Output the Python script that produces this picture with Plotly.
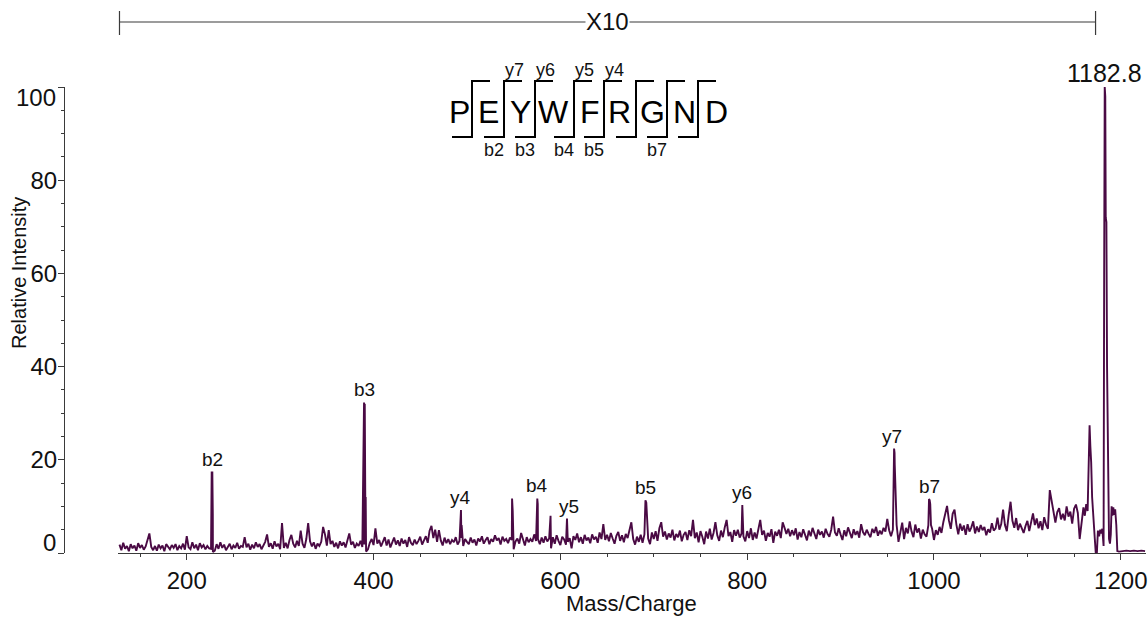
import numpy as np
import plotly.graph_objects as go

# ---------------- data ----------------
# baseline spectrum (m/z 128 .. 1160, every 2 units), x10 region
noise_start = 128
noise_step = 2
noise_intensity = [
    1.8, 0.6, 2.2, 0.9, 1.5, 0.4, 1.9, 1.0, 1.6, 0.5, 2.1, 1.1, 1.7, 0.7, 1.4, 3.0, 4.2, 1.3, 0.6, 1.5,
    0.5, 1.8, 1.0, 1.6, 0.4, 1.9, 1.2, 0.8, 1.7, 1.1, 1.9, 0.6, 1.5, 1.0, 2.0, 0.7, 3.6, 1.2, 0.8, 2.3,
    1.0, 1.8, 0.6, 2.1, 1.2, 1.7, 0.8, 1.5, 1.0, 0.9, 0.2, 0.5, 1.9, 0.9, 2.3, 1.1, 1.8, 0.6, 1.4, 2.0,
    0.8, 1.6, 1.1, 2.2, 0.9, 1.5, 1.3, 3.4, 1.2, 2.0, 0.7, 1.8, 1.0, 2.3, 1.3, 1.9, 0.8, 1.7, 2.4, 4.0,
    1.3, 2.1, 0.9, 2.5, 1.4, 2.0, 0.8, 6.4, 1.1, 2.2, 1.0, 2.8, 3.9, 2.0, 1.2, 2.6, 1.5, 4.8, 2.0, 1.1,
    3.0, 6.4, 2.5, 1.4, 2.3, 0.9, 2.0, 1.5, 2.4, 5.6, 4.0, 1.6, 4.9, 1.9, 2.6, 1.3, 2.2, 1.0, 2.5, 1.6,
    2.3, 1.2, 2.7, 4.2, 1.8, 2.4, 1.1, 2.0, 1.5, 2.6, 1.3, 1.8, 0.3, 0.8, 2.2, 3.0, 1.7, 5.3, 2.0, 2.8,
    1.4, 2.6, 3.4, 1.6, 2.9, 1.2, 2.5, 3.3, 1.8, 2.7, 1.5, 3.1, 2.0, 2.8, 1.3, 3.4, 2.2, 1.7, 2.9, 1.9,
    2.6, 3.5, 1.8, 2.9, 3.6, 2.2, 4.8, 5.8, 3.2, 5.0, 2.4, 4.9, 2.7, 1.6, 3.3, 2.1, 3.0, 1.9, 2.8, 2.3,
    3.4, 1.8, 2.6, 3.2, 1.5, 3.0, 2.4, 1.9, 3.3, 2.2, 2.9, 1.6, 3.1, 2.5, 3.6, 2.0, 2.8, 3.4, 1.9, 3.0,
    2.4, 3.8, 2.7, 3.2, 1.8, 3.5, 2.6, 3.0, 2.1, 3.3, 2.8, 0.8, 2.5, 3.1, 2.0, 4.3, 2.7, 1.6, 3.4, 2.3,
    3.0, 2.4, 4.0, 2.6, 3.0, 1.9, 3.3, 2.2, 3.6, 2.5, 3.1, 1.0, 3.4, 2.0, 3.8, 2.6, 1.7, 3.5, 2.9, 1.8,
    2.4, 3.2, 1.0, 3.6, 2.8, 4.2, 2.3, 3.4, 2.0, 3.9, 2.7, 3.3, 2.1, 4.0, 2.9, 3.5, 2.2, 4.4, 3.0, 6.2,
    2.8, 3.9, 2.5, 4.3, 3.1, 2.0, 3.7, 4.5, 2.6, 3.8, 2.3, 4.1, 3.2, 5.2, 6.6, 3.0, 1.8, 3.5, 2.4, 3.9,
    2.2, 4.0, 10.8, 3.1, 1.9, 4.4, 3.0, 4.7, 2.6, 5.3, 6.6, 3.5, 4.6, 2.9, 4.2, 3.3, 5.0, 2.7, 4.1, 3.4,
    4.8, 2.5, 3.9, 4.5, 2.8, 4.9, 3.6, 7.1, 3.2, 4.4, 2.3, 4.7, 3.5, 1.9, 4.6, 3.1, 5.2, 2.9, 4.3, 6.6,
    3.8, 2.6, 4.8, 3.4, 5.5, 7.1, 3.6, 4.5, 2.4, 4.9, 3.7, 5.0, 3.3, 4.2, 3.6, 2.5, 4.7, 3.2, 5.3, 2.8,
    4.4, 3.1, 5.6, 7.1, 3.9, 4.8, 2.6, 4.3, 3.5, 5.1, 2.2, 4.6, 3.7, 5.0, 3.2, 6.6, 5.4, 4.1, 5.2, 3.6,
    4.9, 3.8, 5.3, 2.9, 4.5, 3.4, 5.1, 4.0, 2.7, 4.8, 3.6, 5.4, 4.2, 3.0, 5.0, 3.9, 4.6, 3.3, 5.2, 4.1,
    3.5, 5.0, 7.8, 4.4, 3.7, 5.3, 4.0, 2.8, 4.9, 3.6, 5.5, 4.3, 3.2, 5.1, 3.9, 4.7, 3.3, 6.2, 4.5, 3.8,
    5.0, 4.1, 3.4, 5.2, 4.3, 5.6, 3.7, 4.8, 4.0, 5.4, 4.6, 7.3, 4.9, 3.6, 5.0, 19.0, 6.0, 2.4, 4.6, 6.5,
    3.0, 5.4, 4.2, 6.8, 4.6, 3.4, 6.1, 4.4, 5.3, 3.1, 5.0, 4.0, 3.5, 6.0, 10.5, 5.2, 2.8, 4.9, 3.9, 5.6,
    4.3, 6.6, 8.7, 10.1, 7.0, 5.2, 8.4, 9.3, 6.1, 4.0, 6.3, 4.8, 5.9, 3.9, 6.2, 4.6, 5.5, 6.8, 4.2, 5.7,
    4.5, 6.0, 4.9, 5.6, 3.8, 5.1, 4.4, 6.4, 4.8, 5.3, 7.6, 5.0, 6.2, 9.3, 6.0, 4.7, 8.2, 11.0, 6.9, 5.4,
    7.5, 4.9, 6.3, 5.1, 4.3, 5.8, 6.9, 4.7, 6.6, 8.5, 6.0, 7.4, 5.3, 6.8, 4.9, 7.7, 6.1, 5.2, 13.5, 11.2,
    8.0, 6.5, 8.8, 9.6, 7.2, 8.4, 7.0, 10.0, 7.8, 8.9, 6.3, 9.5, 10.4, 8.6, 3.0, 6.2, 9.8,
]

# sharp fragment-ion peaks (x10 region)
peak_mz = [226.7, 227.4, 227.9, 389.8, 390.6, 391.2, 391.6, 493.6, 494.3, 548.3, 549.0,
           575.3, 575.8, 589.5, 607.1, 691.1, 794.8, 956.7, 957.3, 957.8, 958.6, 959.3,
           994.7, 995.4, 996.8]
peak_intensity = [17.3, 17.3, 8.5, 32.3, 32.0, 10.0, 12.0, 9.2, 6.0, 11.7, 9.0,
                  11.7, 10.5, 8.0, 7.4, 11.3, 10.3, 14.0, 22.4, 21.5, 15.0, 9.0,
                  11.6, 11.3, 6.0]

# precursor region and unscaled tail
tail_mz = [1161.5, 1163.0, 1164.5, 1165.5, 1166.6, 1167.4, 1168.3, 1169.3, 1170.2, 1171.3,
           1172.2, 1173.2, 1174.4, 1175.5, 1176.8, 1178.0, 1179.2, 1180.2, 1181.0, 1181.6,
           1182.2, 1182.8, 1183.4, 1183.9, 1184.6, 1185.3, 1186.0, 1186.7, 1187.4, 1188.4,
           1189.3, 1190.2, 1191.1, 1192.0, 1193.0, 1194.0, 1195.2, 1196.3, 1198.0, 1202.0,
           1206.0, 1210.0, 1214.0, 1218.0, 1222.0, 1226.0]
tail_intensity = [8.0, 10.5, 9.0, 18.0, 27.4, 23.0, 19.5, 12.0, 8.5, 5.0,
                  3.0, 0.0, 0.0, 4.8, 3.6, 5.0, 4.2, 5.2, 2.0, 1.5,
                  60.0, 100.0, 98.0, 72.0, 71.0, 40.0, 23.5, 10.0, 3.0, 2.0,
                  4.0, 10.0, 8.0, 9.8, 8.2, 9.4, 6.0, 0.4, 0.3, 0.4,
                  0.5, 0.4, 0.5, 0.4, 0.5, 0.4]

label_text = ["b2", "b3", "y4", "b4", "y5", "b5", "y6", "y7", "b7", "1182.8"]
label_mz = [227.1, 390.2, 493.6, 575.3, 609.0, 691.1, 794.8, 955.0, 995.0, 1182.8]
label_int = [17.3, 32.3, 9.2, 11.7, 7.4, 11.3, 10.3, 22.4, 11.6, 100.0]

x10_start, x10_end = 128, 1173

peptide = list("PEYWFRGND")
y_ions = {2: "y7", 3: "y6", 4: "y5", 5: "y4"}          # separator index -> label
b_ions = {2: "b2", 3: "b3", 4: "b4", 5: "b5", 7: "b7"}

x_ticks = [200, 400, 600, 800, 1000, 1200]
y_ticks = [0, 20, 40, 60, 80, 100]

# ---------------- build ----------------
noise_mz = noise_start + noise_step * np.arange(len(noise_intensity))
mz = np.concatenate([noise_mz, peak_mz, tail_mz]).astype(float)
inten = np.concatenate([noise_intensity, peak_intensity, tail_intensity]).astype(float)
order = np.argsort(mz, kind="stable")
mz, inten = mz[order], inten[order]

W, H = 1148, 619
def px(x):
    return x / W
def py(y):
    return 1 - y / H

FONT = "Liberation Sans, Arial, sans-serif"
NARROW = "Liberation Sans Narrow, Arial Narrow, Liberation Sans, sans-serif"
LINE_COL = "#4a0a44"
AX_COL = "#3a3a3a"
TXT = "#111"

fig = go.Figure()
fig.add_trace(go.Scatter(x=mz, y=inten, mode="lines",
                         line=dict(color=LINE_COL, width=1.9),
                         hoverinfo="x+y", showlegend=False))

ann = []
for t, xm, yi in zip(label_text, label_mz, label_int):
    big = t == "1182.8"
    ann.append(dict(x=xm, y=yi, xref="x", yref="y", text=t, showarrow=False,
                    yanchor="bottom", xanchor="center", yshift=-2 if big else 0,
                    font=dict(family=FONT, size=25 if big else 19, color=TXT)))

# y tick labels 0 and 100 are pulled inside the axis
ann.append(dict(x=px(58), y=0, xref="paper", yref="y", text="0", showarrow=False,
                xanchor="right", yanchor="middle", yshift=11,
                font=dict(family=FONT, size=24, color=TXT)))
ann.append(dict(x=px(58), y=100, xref="paper", yref="y", text="100", showarrow=False,
                xanchor="right", yanchor="middle", yshift=-10,
                font=dict(family=FONT, size=24, color=TXT)))

# axis titles
ann.append(dict(x=px(19), y=py(273), xref="paper", yref="paper", text="Relative Intensity",
                textangle=-90, showarrow=False, xanchor="center", yanchor="middle",
                font=dict(family=FONT, size=20, color=TXT)))
ann.append(dict(x=px(631), y=py(603), xref="paper", yref="paper", text="Mass/Charge",
                showarrow=False, xanchor="center", yanchor="middle",
                font=dict(family=FONT, size=22, color=TXT)))

# X10 bracket
ann.append(dict(x=px(607), y=py(22), xref="paper", yref="paper", text="X10",
                showarrow=False, xanchor="center", yanchor="middle", bgcolor="white",
                borderpad=0, font=dict(family=NARROW, size=24, color=TXT)))
shapes = [
    dict(type="line", xref="x", yref="paper", x0=x10_start, x1=x10_end, y0=py(22), y1=py(22),
         line=dict(color=AX_COL, width=1.2), layer="below"),
    dict(type="line", xref="x", yref="paper", x0=x10_start, x1=x10_start, y0=py(11), y1=py(35),
         line=dict(color=AX_COL, width=1.2)),
    dict(type="line", xref="x", yref="paper", x0=x10_end, x1=x10_end, y0=py(11), y1=py(35),
         line=dict(color=AX_COL, width=1.2)),
]

# peptide fragmentation diagram
letter_x = [459, 488, 520, 553, 590, 619, 652, 684, 716]
sep_x = [472, 504, 535, 574, 604, 636, 667, 698]
top_y, bot_y = 81, 137
for ch, lx in zip(peptide, letter_x):
    ann.append(dict(x=px(lx), y=py(112), xref="paper", yref="paper", text=ch, showarrow=False,
                    xanchor="center", yanchor="middle",
                    font=dict(family=FONT, size=32, color="#000")))
for i, sx in enumerate(sep_x, start=1):
    path = (f"M {px(sx-20)},{py(bot_y)} L {px(sx)},{py(bot_y)} L {px(sx)},{py(top_y)} "
            f"L {px(sx+18)},{py(top_y)}")
    shapes.append(dict(type="path", xref="paper", yref="paper", path=path,
                       line=dict(color="#000", width=2)))
    if i in y_ions:
        ann.append(dict(x=px(sx + 10), y=py(70), xref="paper", yref="paper", text=y_ions[i],
                        showarrow=False, xanchor="center", yanchor="middle",
                        font=dict(family=FONT, size=18, color=TXT)))
    if i in b_ions:
        ann.append(dict(x=px(sx - 10), y=py(150), xref="paper", yref="paper", text=b_ions[i],
                        showarrow=False, xanchor="center", yanchor="middle",
                        font=dict(family=FONT, size=18, color=TXT)))

fig.update_layout(
    width=W, height=H,
    margin=dict(l=0, r=0, t=0, b=0),
    paper_bgcolor="white", plot_bgcolor="white",
    font=dict(family=FONT, color=TXT),
    annotations=ann, shapes=shapes,
    xaxis=dict(domain=[px(118), px(1146)], range=[126.4, 1227], anchor="y",
               showgrid=False, zeroline=False, showline=True, linecolor=AX_COL, linewidth=1.2,
               ticks="outside", ticklen=6, tickcolor=AX_COL, tickwidth=1.2,
               tickvals=x_ticks, tickfont=dict(family=FONT, size=24, color=TXT),
               minor=dict(dtick=50, ticks="outside", ticklen=3, tickcolor=AX_COL, tickwidth=1),
               automargin=False),
    yaxis=dict(domain=[1 - 553 / H, 1 - 87 / H], range=[0, 100], anchor="free", position=px(64),
               showgrid=False, zeroline=False, showline=True, linecolor=AX_COL, linewidth=1.2,
               ticks="outside", ticklen=6, tickcolor=AX_COL, tickwidth=1.2,
               tickvals=y_ticks, ticktext=["", "20", "40", "60", "80", ""],
               tickfont=dict(family=FONT, size=24, color=TXT), ticklabelstandoff=-4,
               minor=dict(dtick=5, ticks="outside", ticklen=3, tickcolor=AX_COL, tickwidth=1),
               automargin=False),
)

fig.write_html("out.html")
